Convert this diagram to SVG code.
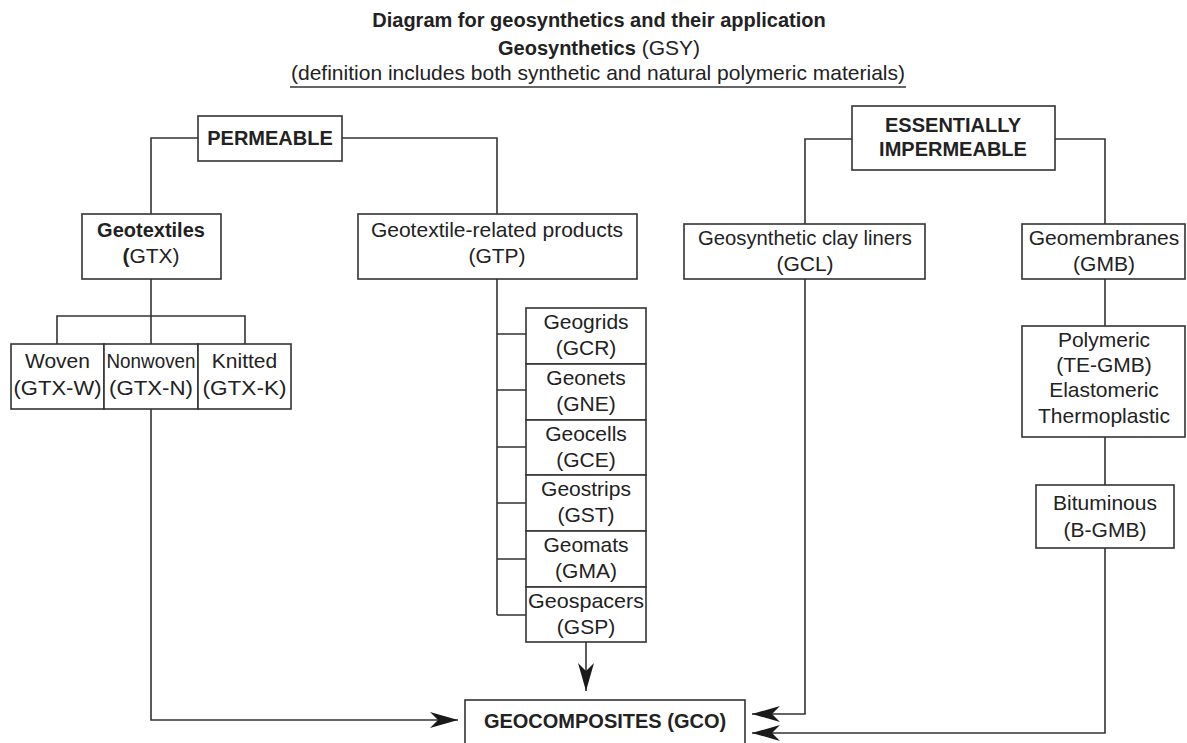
<svg xmlns="http://www.w3.org/2000/svg" width="1187" height="743" viewBox="0 0 1187 743">
  <style>
    .box { fill: #ffffff; stroke: #333333; stroke-width: 1.6; }
    .wire { fill: none; stroke: #333333; stroke-width: 1.6; }
    text { font-family: "Liberation Sans", Arial, sans-serif; fill: #222222; text-anchor: middle; }
    .t { font-size: 21px; }
    .b { font-size: 20px; font-weight: bold; }
    .h { font-size: 20px; font-weight: bold; }
  </style>
  <defs>
    <marker id="arrow" viewBox="0 0 28 16" refX="28" refY="8" markerWidth="28" markerHeight="16" markerUnits="userSpaceOnUse" orient="auto">
      <path d="M0,0 L28,8 L0,16 L8,8 Z" fill="#1a1a1a"/>
    </marker>
  </defs>

  <rect width="1187" height="743" fill="#ffffff"/>

  <!-- heading -->
  <g id="heading">
    <text class="h" x="599" y="27">Diagram for geosynthetics and their application</text>
    <text x="599" y="55"><tspan class="h">Geosynthetics</tspan><tspan class="t"> (GSY)</tspan></text>
    <text class="t" x="598" y="80">(definition includes both synthetic and natural polymeric materials)</text>
    <line x1="290" y1="87" x2="906" y2="87" stroke="#333333" stroke-width="1.6"/>
  </g>

  <!-- connectors -->
  <g id="connectors">
    <!-- permeable branch -->
    <path class="wire" d="M198,138 H151 V214"/>
    <path class="wire" d="M342,138 H497 V214"/>
    <path class="wire" d="M151,279 V344"/>
    <path class="wire" d="M57,344 V316 H245 V344"/>
    <!-- geotextile-related products spine -->
    <path class="wire" d="M497,279 V615"/>
    <path class="wire" d="M497,334 H526 M497,390 H526 M497,447 H526 M497,503 H526 M497,559 H526 M497,615 H526"/>
    <!-- impermeable branch -->
    <path class="wire" d="M852,139 H805 V224"/>
    <path class="wire" d="M1055,139 H1105 V224"/>
    <path class="wire" d="M1105,279 V326"/>
    <path class="wire" d="M1105,437 V485"/>
    <!-- feeds into geocomposites -->
    <path class="wire" d="M151,409 V720 H458" marker-end="url(#arrow)"/>
    <path class="wire" d="M586,642 V691" marker-end="url(#arrow)"/>
    <path class="wire" d="M805,279 V714 H752" marker-end="url(#arrow)"/>
    <path class="wire" d="M1105,548 V733 H752" marker-end="url(#arrow)"/>
  </g>

  <g id="permeable">
    <rect class="box" x="198" y="116" width="144" height="45"/>
    <text class="b" x="270" y="145">PERMEABLE</text>
  </g>

  <g id="impermeable">
    <rect class="box" x="852" y="106" width="203" height="64"/>
    <text class="b" x="953" y="132">ESSENTIALLY</text>
    <text class="b" x="953" y="156">IMPERMEABLE</text>
  </g>

  <g id="gtx">
    <rect class="box" x="82" y="214" width="139" height="65"/>
    <text class="b" x="151" y="237">Geotextiles</text>
    <text class="t" x="151" y="263"><tspan font-weight="bold">(</tspan>GTX)</text>
  </g>

  <g id="gtp">
    <rect class="box" x="358" y="214" width="279" height="65"/>
    <text class="t" x="497" y="237">Geotextile-related products</text>
    <text class="t" x="497" y="263">(GTP)</text>
  </g>

  <g id="gcl">
    <rect class="box" x="684" y="224" width="241" height="55"/>
    <text class="t" x="805" y="245" textLength="214" lengthAdjust="spacingAndGlyphs">Geosynthetic clay liners</text>
    <text class="t" x="805" y="271">(GCL)</text>
  </g>

  <g id="gmb">
    <rect class="box" x="1022" y="224" width="163" height="55"/>
    <text class="t" x="1104" y="245">Geomembranes</text>
    <text class="t" x="1104" y="271">(GMB)</text>
  </g>

  <g id="gtx-w">
    <rect class="box" x="11" y="344" width="93" height="65"/>
    <text class="t" x="57.5" y="368">Woven</text>
    <text class="t" x="57.5" y="395" textLength="88" lengthAdjust="spacingAndGlyphs">(GTX-W)</text>
  </g>
  <g id="gtx-n">
    <rect class="box" x="104" y="344" width="94" height="65"/>
    <text class="t" x="151" y="368" textLength="89" lengthAdjust="spacingAndGlyphs">Nonwoven</text>
    <text class="t" x="151" y="395" textLength="84" lengthAdjust="spacingAndGlyphs">(GTX-N)</text>
  </g>
  <g id="gtx-k">
    <rect class="box" x="198" y="344" width="93" height="65"/>
    <text class="t" x="244.5" y="368">Knitted</text>
    <text class="t" x="244.5" y="395" textLength="84" lengthAdjust="spacingAndGlyphs">(GTX-K)</text>
  </g>

  <g id="gcr">
    <rect class="box" x="526" y="308" width="120" height="56"/>
    <text class="t" x="586" y="329">Geogrids</text>
    <text class="t" x="586" y="355">(GCR)</text>
  </g>
  <g id="gne">
    <rect class="box" x="526" y="364" width="120" height="56"/>
    <text class="t" x="586" y="385">Geonets</text>
    <text class="t" x="586" y="411">(GNE)</text>
  </g>
  <g id="gce">
    <rect class="box" x="526" y="420" width="120" height="55"/>
    <text class="t" x="586" y="441">Geocells</text>
    <text class="t" x="586" y="467">(GCE)</text>
  </g>
  <g id="gst">
    <rect class="box" x="526" y="475" width="120" height="56"/>
    <text class="t" x="586" y="496">Geostrips</text>
    <text class="t" x="586" y="522">(GST)</text>
  </g>
  <g id="gma">
    <rect class="box" x="526" y="531" width="120" height="56"/>
    <text class="t" x="586" y="552">Geomats</text>
    <text class="t" x="586" y="578">(GMA)</text>
  </g>
  <g id="gsp">
    <rect class="box" x="526" y="587" width="120" height="55"/>
    <text class="t" x="586" y="608" textLength="116" lengthAdjust="spacingAndGlyphs">Geospacers</text>
    <text class="t" x="586" y="634">(GSP)</text>
  </g>

  <g id="te-gmb">
    <rect class="box" x="1022" y="326" width="163" height="111"/>
    <text class="t" x="1104" y="347">Polymeric</text>
    <text class="t" x="1104" y="372">(TE-GMB)</text>
    <text class="t" x="1104" y="397">Elastomeric</text>
    <text class="t" x="1104" y="423">Thermoplastic</text>
  </g>

  <g id="b-gmb">
    <rect class="box" x="1036" y="485" width="138" height="63"/>
    <text class="t" x="1105" y="510">Bituminous</text>
    <text class="t" x="1105" y="537">(B-GMB)</text>
  </g>

  <g id="gco">
    <rect class="box" x="465" y="700" width="280" height="50"/>
    <text class="b" x="605" y="728" font-size="21">GEOCOMPOSITES (GCO)</text>
  </g>
</svg>
